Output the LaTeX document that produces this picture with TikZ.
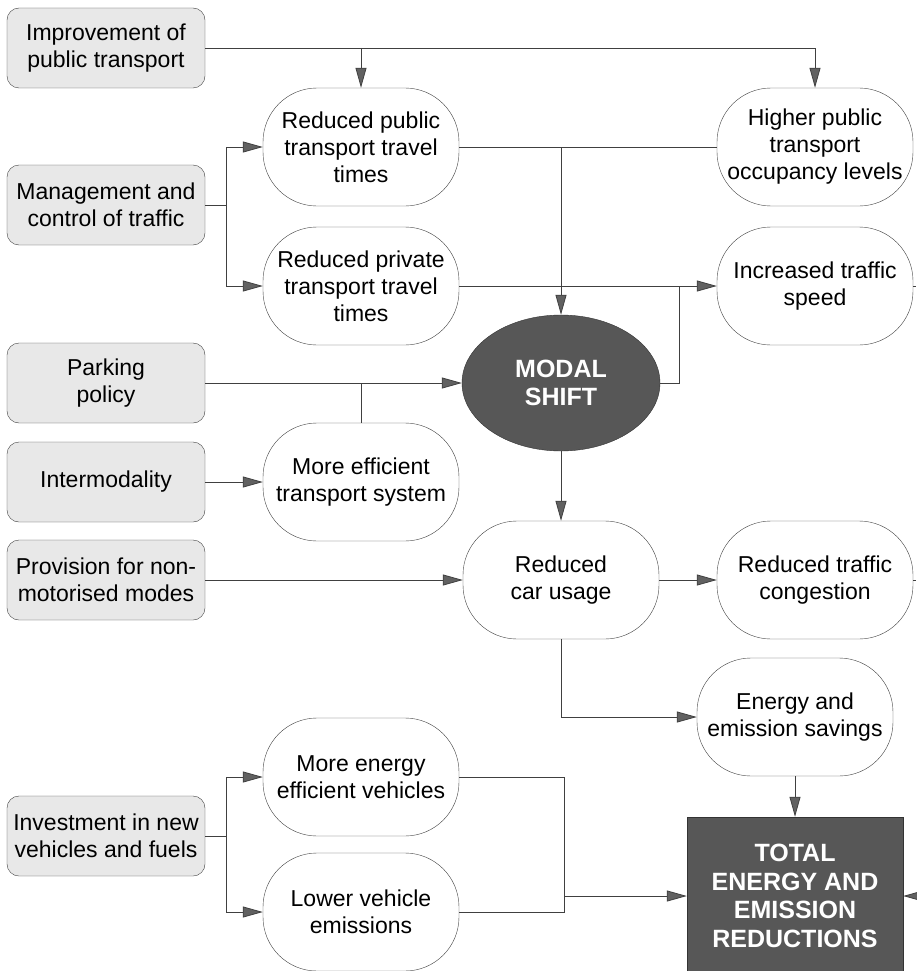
\documentclass[tikz,border=0pt]{standalone}
\usepackage{fontspec}
\setmainfont{Liberation Sans}
\usetikzlibrary{arrows.meta,shapes.geometric}
\newcommand{\leftX}{106}
\newcommand{\midX}{361}
\newcommand{\shiftX}{561}
\newcommand{\rightX}{815}

\begin{document}
\begin{tikzpicture}[x=1pt,y=-1pt,
    cause/.style={draw=black!75, fill=black!9, rounded corners=12pt,
        minimum width=198pt, minimum height=80pt, align=center, inner sep=1pt,
        font=\fontsize{23}{27}\selectfont},
    effect/.style={draw=black!75, fill=white, rounded corners=54pt,
        minimum width=196pt, minimum height=118pt, align=center, inner sep=1pt,
        font=\fontsize{23}{27}\selectfont},
    hub/.style={draw=black!80, fill=black!66, text=white, align=center,
        font=\fontsize{25}{28.5}\selectfont\bfseries},
    link/.style={draw=black!75, line width=0.8pt},
    flow/.style={link, -{Triangle[length=20pt,width=11pt,fill=black!62]}}]

        \useasboundingbox (0,0) rectangle (916,971);

        % Measures taken (left column)
        \node[cause] (imp) at (\leftX,48) {Improvement of\\public transport};
        \node[cause] (mgmt) at (\leftX,205) {Management and\\control of traffic};
        \node[cause] (park) at (\leftX,383) {Parking\\policy};
        \node[cause] (inter) at (\leftX,482) {Intermodality};
        \node[cause] (prov) at (\leftX,580) {Provision for non-\\motorised modes};
        \node[cause] (invest) at (\leftX,836) {Investment in new\\vehicles and fuels};

        % Direct effects (middle column)
        \node[effect] (rpub) at (\midX,147) {Reduced public\\transport travel\\times};
        \node[effect] (rpriv) at (\midX,286) {Reduced private\\transport travel\\times};
        \node[effect] (effic) at (\midX,482) {More efficient\\transport system};
        \node[effect] (enveh) at (\midX,777) {More energy\\efficient vehicles};
        \node[effect] (lowem) at (\midX,912) {Lower vehicle\\emissions};

        % Modal shift and what follows
        \node[hub, ellipse, minimum width=198pt, minimum height=136pt] (modal) at (\shiftX,383) {MODAL\\SHIFT};
        \node[effect] (rcar) at (\shiftX,580) {Reduced\\car usage};
        \node[effect] (occ) at (\rightX,147) {Higher public\\transport\\occupancy levels};
        \node[effect] (speed) at (\rightX,286) {Increased traffic\\speed};
        \node[effect] (cong) at (\rightX,580) {Reduced traffic\\congestion};
        \node[effect] (saving) at (795,717) {Energy and\\emission savings};
        \node[hub, rectangle, minimum width=216pt, minimum height=158pt] (total) at (795,896)
            {TOTAL\\ENERGY AND\\EMISSION\\REDUCTIONS};

        % Junction points
        \coordinate (mj) at (226,205);
        \coordinate (ij) at (226,836);
        \coordinate (sj) at (679,286);
        \coordinate (vj) at (564,912);
        \coordinate (ex1) at (916,286);
        \coordinate (ex2) at (916,580);
        \coordinate (ex3) at (935,896);

        % Connectors
        \draw[flow] (imp.east) -| (occ.north);
        \draw[flow] (rpub.north |- imp.east) -- (rpub.north);
        \draw[link] (mgmt.east) -- (mj);
        \draw[flow] (mj) |- (rpub.west);
        \draw[flow] (mj) |- (rpriv.west);
        \draw[link] (rpub.east) -- (occ.west);
        \draw[flow] (modal.north |- rpub.east) -- (modal.north);
        \draw[flow] (rpriv.east) -- (speed.west);
        \draw[link] (modal.east) -| (sj);
        \draw[flow] (park.east) -- (modal.west);
        \draw[link] (effic.north) -- (effic.north |- park.east);
        \draw[flow] (inter.east) -- (effic.west);
        \draw[flow] (prov.east) -- (rcar.west);
        \draw[flow] (modal.south) -- (rcar.north);
        \draw[flow] (rcar.east) -- (cong.west);
        \draw[flow] (rcar.south) |- (saving.west);
        \draw[flow] (saving.south) -- (total.north);
        \draw[link] (invest.east) -- (ij);
        \draw[flow] (ij) |- (enveh.west);
        \draw[flow] (ij) |- (lowem.west);
        \draw[link] (enveh.east) -| (vj) -- (lowem.east);
        \draw[flow] (vj |- total.west) -- (total.west);
        \draw[link] (speed.east) -- (ex1);
        \draw[link] (cong.east) -- (ex2);
        \draw[flow] (ex3) -- (total.east);
\end{tikzpicture}
\end{document}
